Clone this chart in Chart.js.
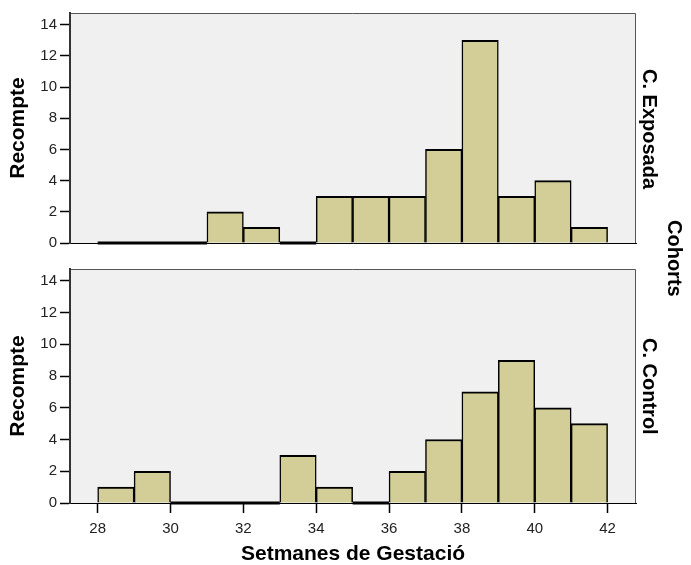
<!DOCTYPE html>
<html lang="ca">
<head>
  <meta charset="UTF-8">
  <title>Setmanes de Gestació per cohort</title>
  <script src="https://cdn.jsdelivr.net/npm/chart.js"></script>
  <style>
    body { margin: 0; background: #fff; font-family: "Liberation Sans", Arial, sans-serif; }
    #wrap { position: relative; width: 691px; height: 565px; }
    canvas { position: absolute; left: 0; }
    .side {
      position: absolute;
      writing-mode: vertical-rl;
      text-align: center;
      font-weight: bold;
      font-size: 20px;
      line-height: 22px;
      width: 22px;
      color: #000;
    }
  </style>
</head>
<body>
<div id="wrap">
  <canvas id="topChart" width="691" height="255" style="top:0"></canvas>
  <canvas id="botChart" width="691" height="310" style="top:255px"></canvas>
  <div class="side" style="left:639px; top:13px; height:233px;">C. Exposada</div>
  <div class="side" style="left:639px; top:269px; height:234px;">C. Control</div>
  <div class="side" style="left:664px; top:13px; height:490px;">Cohorts</div>
</div>

<script>
// bins d'una setmana: 28-29, 29-30, ... 41-42
const binStarts = [28, 29, 30, 31, 32, 33, 34, 35, 36, 37, 38, 39, 40, 41];
const exposada  = [0, 0, 0, 2, 1, 0, 3, 3, 3, 6, 13, 3, 4, 1];
const control   = [1, 2, 0, 0, 0, 3, 1, 0, 2, 4, 7, 9, 6, 5];
const xTicks = [28, 30, 32, 34, 36, 38, 40, 42];
const yTicks = [0, 2, 4, 6, 8, 10, 12, 14];

const barColor = '#d3ce98';
const tickFont = { family: 'Liberation Sans, Arial, sans-serif', size: 15 };
const titleFont = { family: 'Liberation Sans, Arial, sans-serif', size: 21, weight: 'bold', lineHeight: 1 };

const panelBg = {
  id: 'panelBg',
  beforeDraw(chart) {
    const a = chart.chartArea, ctx = chart.ctx;
    ctx.save();
    ctx.fillStyle = '#f0f0f0';
    ctx.fillRect(a.left, a.top, a.right - a.left, a.bottom - a.top);
    ctx.strokeStyle = '#555';
    ctx.lineWidth = 1;
    ctx.beginPath();
    ctx.moveTo(a.left, a.top + 0.5);
    ctx.lineTo(a.right - 0.5, a.top + 0.5);
    ctx.lineTo(a.right - 0.5, a.bottom);
    ctx.stroke();
    ctx.restore();
  }
};

function barData(counts) {
  return binStarts.map((s, i) => ({ x: s + 0.5, y: counts[i] }));
}

// buits (recompte 0) es dibuixen com una línia gruixuda a la base
function zeroData(counts) {
  const pts = [];
  binStarts.forEach((s, i) => {
    if (counts[i] === 0) {
      pts.push({ x: s, y: 0 }, { x: s + 1, y: 0 }, { x: s + 1, y: null });
    }
  });
  return pts;
}

function makeChart(id, counts, bottom) {
  return new Chart(document.getElementById(id), {
    data: {
      datasets: [
        {
          type: 'bar',
          data: barData(counts),
          backgroundColor: barColor,
          borderColor: '#000',
          borderWidth: { left: 1.5, right: 1.5, top: 2, bottom: 0 },
          borderSkipped: false,
          barPercentage: 1,
          categoryPercentage: 1
        },
        {
          type: 'line',
          data: zeroData(counts),
          borderColor: '#000',
          borderWidth: 3,
          pointRadius: 0,
          spanGaps: false,
          clip: false
        }
      ]
    },
    options: {
      responsive: false,
      animation: false,
      devicePixelRatio: 1,
      layout: { padding: { top: bottom ? 14 : 13, right: 55, bottom: bottom ? 0 : 9, left: 0 } },
      plugins: { legend: { display: false }, tooltip: { enabled: false } },
      scales: {
        x: {
          type: 'linear',
          offset: false,
          min: 27.24,
          max: 42.78,
          afterBuildTicks: s => { s.ticks = xTicks.map(v => ({ value: v })); },
          afterFit: s => { s.height = bottom ? 62 : 0; },
          ticks: { display: bottom, font: tickFont, color: '#222', padding: 7, autoSkip: false, maxRotation: 0 },
          grid: { offset: false, drawOnChartArea: false, drawTicks: bottom, tickLength: 10, tickColor: '#000', tickWidth: 1.5 },
          border: { display: true, color: '#000', width: 1 },
          title: { display: bottom, text: 'Setmanes de Gestació', font: titleFont, color: '#000', padding: { top: 0, bottom: 0 } }
        },
        y: {
          min: 0,
          max: 14.75,
          afterBuildTicks: s => { s.ticks = yTicks.map(v => ({ value: v })); },
          afterFit: s => { s.width = 70; },
          ticks: { font: tickFont, color: '#222', padding: 3 },
          grid: { drawOnChartArea: false, tickLength: 10, tickColor: '#000', tickWidth: 1.5 },
          border: { display: true, color: '#333', width: 2 },
          title: { display: true, text: 'Recompte', font: titleFont, color: '#000', padding: { top: 8, bottom: 0 } }
        }
      }
    },
    plugins: [panelBg]
  });
}

makeChart('topChart', exposada, false);
makeChart('botChart', control, true);
</script>
</body>
</html>
